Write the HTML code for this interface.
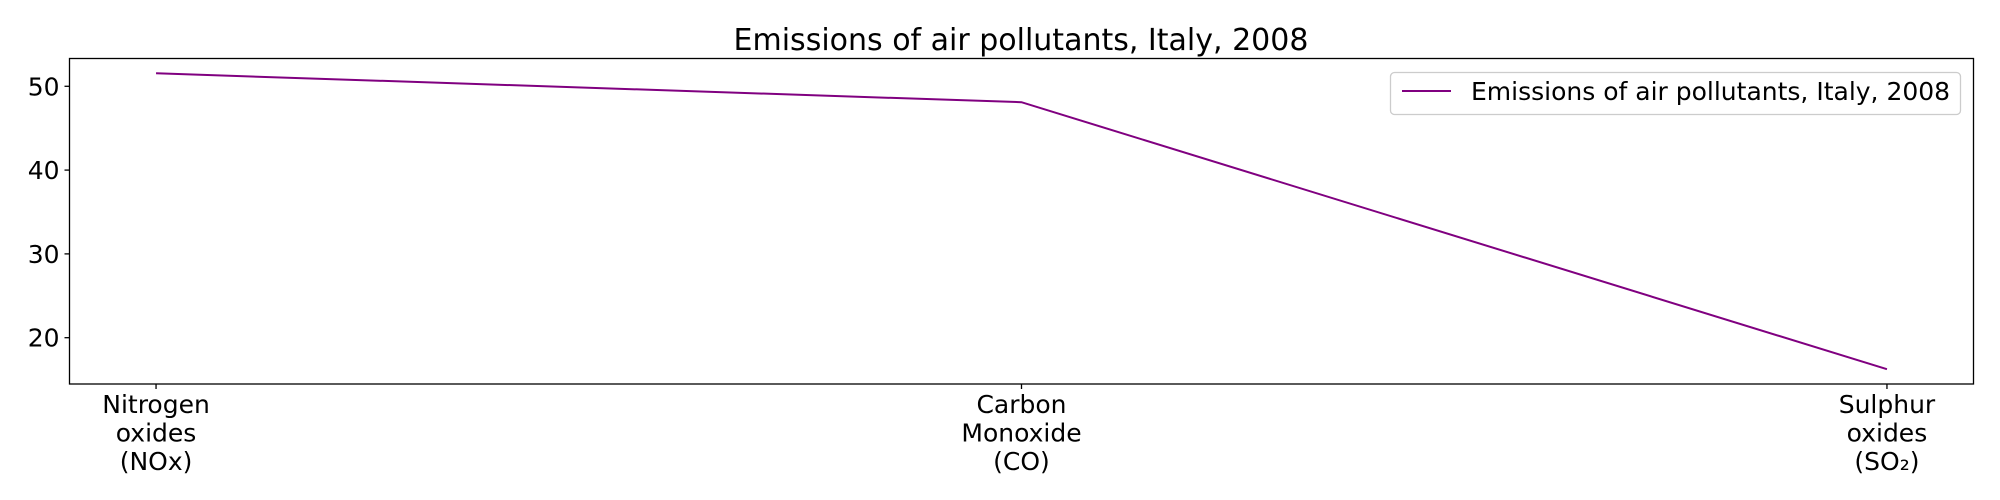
<!DOCTYPE html>
<html><head><meta charset="utf-8"><style>
html,body{margin:0;padding:0;background:#fff;}
svg{display:block;font-family:"DejaVu Sans","Liberation Sans",sans-serif;}
</style></head><body>
<svg id="chart" width="2000" height="500" xmlns="http://www.w3.org/2000/svg">
<text x="1021" y="50" font-size="30" text-anchor="middle">Emissions of air pollutants, Italy, 2008</text>
<g id="yaxis"></g>
<g id="xaxis"></g>
<g id="series"></g>
<rect x="69.5" y="58.5" width="1904" height="325.5" fill="none" stroke="#000" stroke-width="1.3"/>
<g>
<rect x="1390.5" y="72.5" width="570" height="42" rx="4" fill="#fff" stroke="#ccc" stroke-width="1.3"/>
<line x1="1402" y1="91" x2="1451" y2="91" stroke="purple" stroke-width="2"/>
<text x="1471" y="100" font-size="25">Emissions of air pollutants, Italy, 2008</text>
</g>
</svg>
<script>
const categories = [["Nitrogen","oxides","(NOx)"],["Carbon","Monoxide","(CO)"],["Sulphur","oxides","(SO₂)"]];
const values = [51.55, 48.1, 16.24];
const yTicks = [20, 30, 40, 50];
const NS = "http://www.w3.org/2000/svg";
const L = 69.5, R = 1973.5, T = 58.5, B = 384;
const vmin = Math.min(...values), vmax = Math.max(...values), pad = (vmax - vmin) * 0.05;
const y0 = vmin - pad, y1 = vmax + pad;
const n = categories.length;
const xs = i => L + (i + 0.05 * (n - 1)) / ((n - 1) * 1.1) * (R - L);
const ys = v => B - (v - y0) / (y1 - y0) * (B - T);
function mk(tag, attrs, parent) { const e = document.createElementNS(NS, tag); for (const k in attrs) e.setAttribute(k, attrs[k]); parent.appendChild(e); return e; }
const ya = document.getElementById('yaxis');
yTicks.forEach(t => {
  const y = ys(t);
  const tk = mk('line', {x1: L - 5, x2: L, y1: y, y2: y, stroke: '#000', 'stroke-width': 1.3}, ya);
  
  
  const lb = mk('text', {x: L - 10, y: y + 9, 'font-size': 25, 'text-anchor': 'end'}, ya);
  lb.textContent = t;
  
  
});
const xa = document.getElementById('xaxis');
categories.forEach((c, i) => {
  const x = xs(i);
  const tk = mk('line', {x1: x, x2: x, y1: B, y2: B + 5, stroke: '#000', 'stroke-width': 1.3}, xa);
  
  
  const lb = mk('text', {x: x, y: 413, 'font-size': 25, 'text-anchor': 'middle'}, xa);
  
  
  c.forEach((s, j) => { const ts = mk('tspan', {x: x, dy: j ? 28.5 : 0}, lb); ts.textContent = s; });
});
const pts = values.map((v, i) => xs(i) + ',' + ys(v)).join(' ');
const pl = mk('polyline', {points: pts, fill: 'none', stroke: 'purple', 'stroke-width': 2}, document.getElementById('series'));


</script>
</body></html>
